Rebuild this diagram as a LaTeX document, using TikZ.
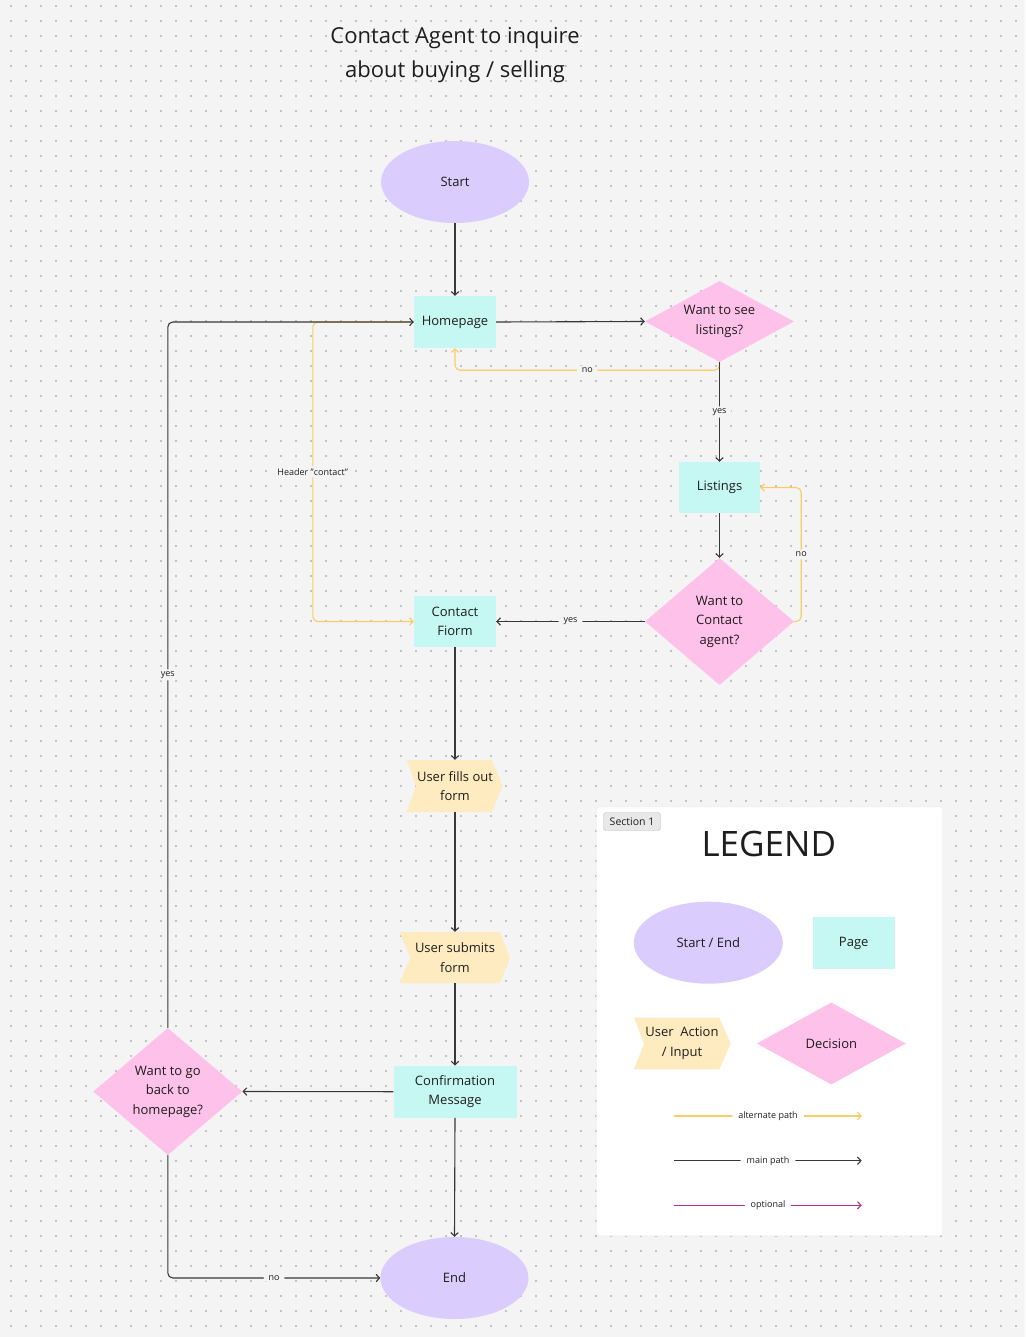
\documentclass[tikz,border=0pt]{standalone}
\usepackage{fontspec}
\setmainfont{Open Sans}
\usetikzlibrary{arrows.meta,shapes.geometric}
\definecolor{bg}{HTML}{F4F4F4}
\definecolor{dotc}{HTML}{C2C2C2}
\definecolor{lav}{HTML}{DACCFC}
\definecolor{aqua}{HTML}{C5F8F2}
\definecolor{pinkd}{HTML}{FEC1EA}
\definecolor{cream}{HTML}{FEEBC0}
\definecolor{darkl}{HTML}{383838}
\definecolor{yel}{HTML}{F8CD65}
\definecolor{mag}{HTML}{B8308A}
\definecolor{txt}{HTML}{1E1E1E}
\begin{document}
\begin{tikzpicture}[x=1pt,y=-1pt,
  nodefont/.style={font=\fontsize{13}{19.5}\selectfont},
  page/.style={rectangle, fill=aqua, text=txt, align=center, inner sep=0, nodefont},
  term/.style={ellipse, fill=lav, text=txt, align=center, inner sep=0, minimum width=148pt, minimum height=82pt, nodefont},
  decision/.style={diamond, fill=pinkd, text=txt, align=center, inner sep=0, nodefont},
  action/.style={rectangle, text=txt, align=center, inner sep=0, nodefont},
  tip/.style={-{Straight Barb[length=3.5pt,width=7.5pt]}},
  mainpath/.style={draw=darkl, line width=1.1pt, rounded corners=5pt, tip},
  altpath/.style={draw=yel, line width=1.1pt, rounded corners=5pt, tip},
  optpath/.style={draw=mag, line width=1.1pt, tip},
  lbl/.style={fill=bg, text=txt, inner xsep=5pt, inner ysep=2pt, font=\fontsize{9}{10}\selectfont},
  lblw/.style={fill=white, text=txt, inner xsep=6pt, inner ysep=2pt, font=\fontsize{9}{10}\selectfont}
]
\useasboundingbox (0,0) rectangle (1025,1337);
\fill[bg] (0,0) rectangle (1025,1337);
% dot grid
\foreach \yy in {6,21,...,1336}
  \draw[dotc, line width=1.2pt, dash pattern=on 1.2pt off 13.8pt] (10.4,\yy) -- (1025,\yy);

% title
\node[text=txt, align=center, font=\fontsize{22}{34}\selectfont] (title) at (455,55.5) {Contact Agent to inquire\\about buying / selling};

% nodes
\node[term] (start) at (455,182) {Start};
\node[page, minimum width=82pt, minimum height=52pt] (home) at (455,322) {Homepage};
\node[decision, aspect=1.84, minimum width=149pt, minimum height=81pt] (d1) at (719.5,321.5) {Want to see\\listings?};
\node[page, minimum width=81pt, minimum height=51pt] (list) at (719.5,487.5) {Listings};
\node[decision, aspect=1.17, minimum width=149pt, minimum height=127pt] (d2) at (719.5,621.5) {Want to\\Contact\\agent?};
\node[page, minimum width=82pt, minimum height=51pt] (contact) at (455,621.5) {Contact\\Fiorm};
\fill[cream] (406.7,760) -- (491.7,760) -- (502.7,786) -- (491.7,812) -- (406.7,812) -- (416,786) -- cycle;
\node[action, minimum width=97pt, minimum height=52pt] (fill) at (455,786) {User fills out\\form};
\fill[cream] (399.3,932) -- (500,932) -- (510,957.5) -- (500,983) -- (399.3,983) -- (410.7,957.5) -- cycle;
\node[action, minimum width=110pt, minimum height=51pt] (submit) at (455,957.5) {User submits\\form};
\node[page, minimum width=123pt, minimum height=52pt] (conf) at (455,1091.7) {Confirmation\\Message};
\node[decision, aspect=1.17, minimum width=149pt, minimum height=127pt] (d3) at (167.8,1091.5) {Want to go\\back to\\homepage?};
\node[term] (end) at (454.5,1278) {End};

% alternate (yellow) connectors
\draw[altpath] (home.west) -- ++(-101,0) |- node[pos=0.25, lbl]{Header "contact"} (contact.west);
\draw[altpath] (d1.south) -- ++(0,8) -| node[pos=0.25, lbl]{no} (home.south);
\draw[altpath] (d2.east) -- ++(7,0) |- node[pos=0.25, lbl]{no} (list.east);

% main connectors
\draw[mainpath] (start) -- (home);
\draw[mainpath] (home.east) -- (d1.west);
\draw[mainpath] (d1.south) -- node[lbl]{yes} (list.north);
\draw[mainpath] (list.south) -- (d2.north);
\draw[mainpath] (d2.west) -- node[lbl]{yes} (contact.east);
\draw[mainpath] (contact.south) -- (fill.north);
\draw[mainpath] (fill.south) -- (submit.north);
\draw[mainpath] (submit.south) -- (conf.north);
\draw[mainpath] (conf.south) -- (end.north);
\draw[mainpath] (conf.west) -- (d3.east);
\draw[mainpath] (d3.north) |- node[pos=0.25, lbl]{yes} (home.west);
\draw[mainpath] (d3.south) |- node[pos=0.75, lbl]{no} (end.west);

% legend
\node[draw=black!8, fill=white, rounded corners=3pt, minimum width=346pt, minimum height=429pt, inner sep=0] (panel) at (769.7,1021.3) {};
\node[draw=black!25, fill=black!9, rounded corners=2.5pt, minimum width=57pt, minimum height=18pt, inner sep=0, text=txt, font=\fontsize{10.5}{12}\selectfont] (sec) at (632,821.5) {Section 1};
\node[text=txt, font=\fontsize{35}{40}\selectfont] (legend) at (768.8,844) {LEGEND};
\node[term, minimum width=149pt] (lse) at (708.3,942.7) {Start / End};
\node[page, minimum width=82pt, minimum height=52pt] (lpage) at (853.7,943) {Page};
\fill[cream] (634,1017.7) -- (719.3,1017.7) -- (730.7,1043.5) -- (719.3,1069.3) -- (634,1069.3) -- (644,1043.5) -- cycle;
\node[action, minimum width=97pt, minimum height=52pt] (lact) at (682,1043.5) {User\ \ Action\\/ Input};
\node[decision, aspect=1.82, minimum width=149pt, minimum height=82pt] (ldec) at (831.3,1043.5) {Decision};
\coordinate (la1) at (674.3,1116);
\coordinate (la2) at (861.7,1116);
\coordinate (lm1) at (674.3,1160.7);
\coordinate (lm2) at (861.7,1160.7);
\coordinate (lo1) at (674.3,1205.3);
\coordinate (lo2) at (861.7,1205.3);
\draw[altpath] (la1) -- node[lblw]{alternate path} (la2);
\draw[mainpath] (lm1) -- node[lblw]{main path} (lm2);
\draw[optpath] (lo1) -- node[lblw]{optional} (lo2);
\end{tikzpicture}
\end{document}
